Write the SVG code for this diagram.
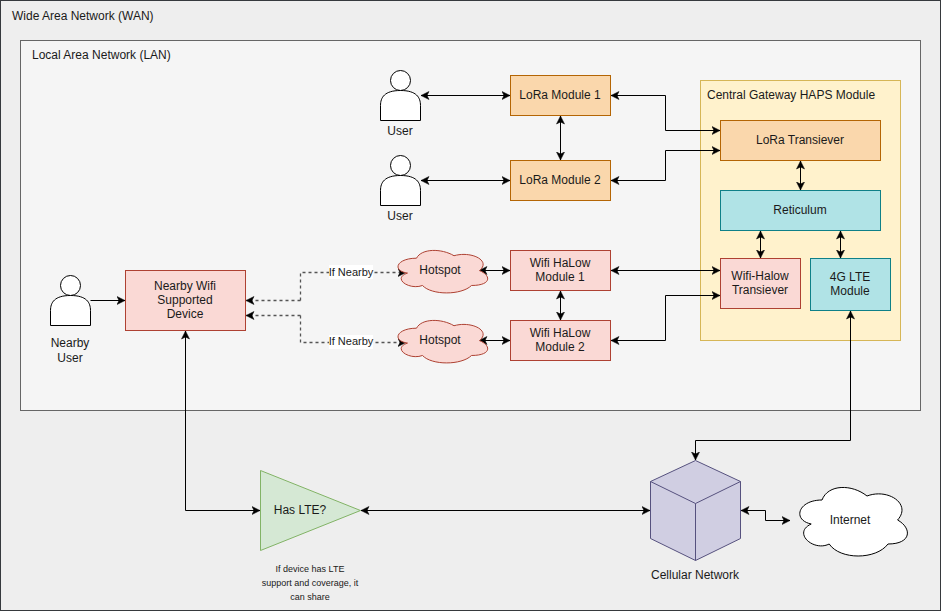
<svg xmlns="http://www.w3.org/2000/svg" xmlns:xlink="http://www.w3.org/1999/xlink" width="941" height="611" viewBox="0 0 941 611">
<style>
text{font-family:"Liberation Sans",Arial,sans-serif;font-size:12px;fill:#1a1a1a;text-anchor:middle}
.l{text-anchor:start}
.s{font-size:9px}
.n{font-size:11px}
.o{fill:#fad7ac;stroke:#b46504}
.t{fill:#b0e3e6;stroke:#0e8088}
.r{fill:#fad9d5;stroke:#ae4132}
.u{fill:#fff;stroke:#000}
.c{fill:none;stroke:#000;marker-end:url(#a)}
.b{marker-start:url(#a)}
.d{fill:none;stroke:#555;stroke-width:1.3;stroke-dasharray:3 3;marker-end:url(#a)}
.cl{vector-effect:non-scaling-stroke}
</style>
<defs>
<marker id="a" markerUnits="userSpaceOnUse" viewBox="0 0 9 9" markerWidth="9" markerHeight="9" refX="8.5" refY="4.5" orient="auto-start-reverse">
<path d="M0.5 0.5L8.5 4.5L0.5 8.5L2.5 4.5Z" fill="#000" stroke="#000" stroke-width="0.5"/>
</marker>
<path id="cloud" class="cl" d="M25 60C5 60 0 80 16 84C0 92.8 18 112 31 104C40 120 70 120 80 104C100 104 100 88 88 80C100 64 80 48 62.5 56C50 44 30 44 25 60Z"/>
<g id="person">
<circle cx="20" cy="10" r="10"/>
<path d="M0 50V35C0 27 4 20 20 20C36 20 40 27 40 35V50Z"/>
</g>
</defs>
<g id="wan"><rect x="0.5" y="0.5" width="940" height="610" fill="#eeeeee" stroke="#36393d"/><text class="l" x="12" y="19.5">Wide Area Network (WAN)</text></g>
<g id="lan"><rect x="20.5" y="40.5" width="900" height="370" fill="#f5f5f5" stroke="#666666"/><text class="l" x="32" y="59">Local Area Network (LAN)</text></g>
<g id="gateway"><rect x="700.5" y="80.5" width="200" height="260" fill="#fff2cc" stroke="#d6b656"/><text class="l" x="707" y="99">Central Gateway HAPS Module</text></g>
<g id="connectors">
<path class="c b" d="M421 95.500H510"/>
<path class="c b" d="M421 180.500H510"/>
<path class="c b" d="M560.500 116V160"/>
<path class="c b" d="M611 95.500H665.500V130.500H720"/>
<path class="c b" d="M611 180.500H665.500V150.500H720"/>
<path class="c b" d="M800.500 161V190"/>
<path class="c b" d="M760.500 231V258"/>
<path class="c b" d="M840.500 231V258"/>
<path class="c b" d="M611 270.500H720"/>
<path class="c b" d="M611 340.500H665.500V295.500H720"/>
<path class="c b" d="M479 270.500H510"/>
<path class="c b" d="M479 340.500H510"/>
<path class="c b" d="M560.500 291V320"/>
<path class="d" d="M300.500 300.500V272.500H406"/>
<path class="d" d="M300.500 300.500H246"/>
<path class="d" d="M300.500 315.500V342.500H406"/>
<path class="d" d="M300.500 315.500H246"/>
<path class="c" d="M90.500 300.500H125"/>
<path class="c b" d="M185.500 331V510.500H260"/>
<path class="c b" d="M361 510.500H650"/>
<path class="c b" d="M850.500 311V440.500H695.500V460"/>
<path class="c b" d="M741 510.500H765.500V520.500H790"/>
</g>
<g id="label-nearby-1"><rect x="329" y="265" width="44" height="14" fill="#fff"/><text class="n" x="351" y="276">If Nearby</text></g>
<g id="label-nearby-2"><rect x="329" y="335" width="44" height="14" fill="#fff"/><text class="n" x="351" y="345">If Nearby</text></g>
<g id="user-1"><use xlink:href="#person" href="#person" x="380.500" y="70.500" class="u"/><text x="400" y="135">User</text></g>
<g id="user-2"><use xlink:href="#person" href="#person" x="380.500" y="155.500" class="u"/><text x="400" y="220">User</text></g>
<g id="nearby-user"><use xlink:href="#person" href="#person" x="50.500" y="275.500" class="u"/><text x="70" y="347">Nearby</text><text x="70" y="362">User</text></g>
<g id="lora-1"><rect class="o" x="510.500" y="75.500" width="100" height="40"/><text x="560" y="99">LoRa Module 1</text></g>
<g id="lora-2"><rect class="o" x="510.500" y="160.500" width="100" height="40"/><text x="560" y="184">LoRa Module 2</text></g>
<g id="wifi-1"><rect class="r" x="510.500" y="250.500" width="100" height="40"/><text x="560" y="267">Wifi HaLow</text><text x="560" y="281">Module 1</text></g>
<g id="wifi-2"><rect class="r" x="510.500" y="320.500" width="100" height="40"/><text x="560" y="337">Wifi HaLow</text><text x="560" y="351">Module 2</text></g>
<g id="hotspot-1"><use xlink:href="#cloud" href="#cloud" transform="translate(391.500 221) scale(1 .62)" class="r"/><text x="440" y="274">Hotspot</text></g>
<g id="hotspot-2"><use xlink:href="#cloud" href="#cloud" transform="translate(391.500 291) scale(1 .62)" class="r"/><text x="440" y="344">Hotspot</text></g>
<g id="nearby-device"><rect class="r" x="125.500" y="270.500" width="120" height="60"/><text x="185" y="290">Nearby Wifi</text><text x="185" y="304">Supported</text><text x="185" y="318">Device</text></g>
<g id="lora-transiever"><rect class="o" x="720.500" y="120.500" width="160" height="40"/><text x="800" y="144">LoRa Transiever</text></g>
<g id="reticulum"><rect class="t" x="720.500" y="190.500" width="160" height="40"/><text x="800" y="214">Reticulum</text></g>
<g id="wifi-halow"><rect class="r" x="720.500" y="258.500" width="80" height="50"/><text x="760" y="280">Wifi-Halow</text><text x="760" y="294">Transiever</text></g>
<g id="lte-module"><rect class="t" x="810.500" y="258.500" width="80" height="52"/><text x="850" y="281">4G LTE</text><text x="850" y="295">Module</text></g>
<g id="has-lte"><path d="M260.500 470.500L360.500 510.500L260.500 550.500Z" fill="#d5e8d4" stroke="#82b366"/><text x="300" y="514">Has LTE?</text><text class="s" x="310" y="572">If device has LTE</text><text class="s" x="310" y="586">support and coverage, it</text><text class="s" x="310" y="600">can share</text></g>
<g id="cellular"><path d="M695.500 460.500L740.500 481.500V538.500L695.500 560.500L650.500 538.500V481.500Z" fill="#d0cee2" stroke="#56517e"/><path d="M650.500 481.500L695.500 503.500L740.500 481.500M695.500 503.500V560.500" fill="none" stroke="#56517e"/><text x="695" y="579">Cellular Network</text></g>
<g id="internet"><use xlink:href="#cloud" href="#cloud" transform="translate(792 440) scale(1.2 1)" class="u"/><text x="850" y="524">Internet</text></g>
</svg>
